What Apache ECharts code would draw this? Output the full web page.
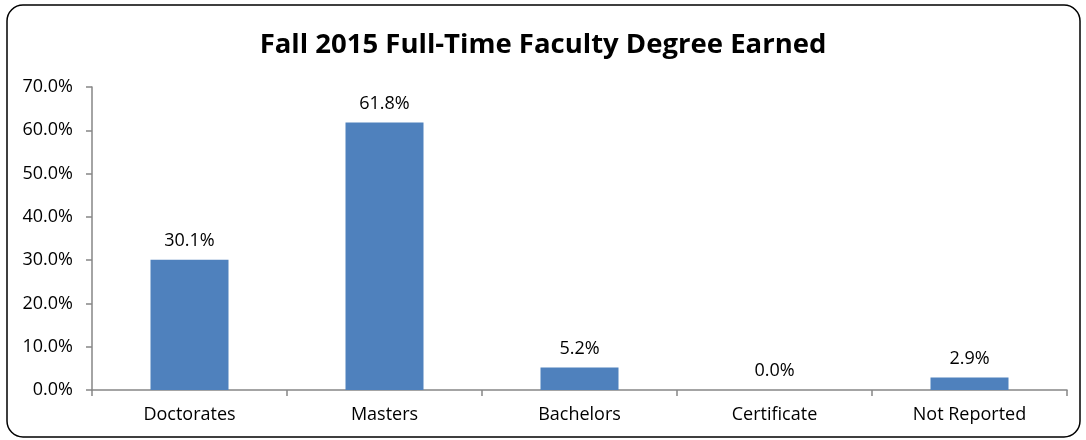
<!DOCTYPE html>
<html>
<head>
<meta charset="utf-8">
<script src="https://cdn.jsdelivr.net/npm/echarts@6/dist/echarts.min.js"></script>
<style>
html,body{margin:0;padding:0;background:#fff;}
#chart{width:1086px;height:440px;}
</style>
</head>
<body>
<div id="chart"></div>
<script>
const categories = ["Doctorates", "Masters", "Bachelors", "Certificate", "Not Reported"];
const values = [30.1, 61.8, 5.2, 0.0, 2.9];
const titleText = "Fall 2015 Full-Time Faculty Degree Earned";

const chart = echarts.init(document.getElementById('chart'));
const font = '"Open Sans", "Noto Sans", sans-serif';
chart.setOption({
  animation: false,
  backgroundColor: '#fff',
  title: {
    text: titleText,
    left: 'center',
    top: 26,
    textStyle: {fontFamily: font, fontWeight: 'bold', fontSize: 27.5, color: '#000'}
  },
  graphic: [{
    type: 'rect',
    shape: {x: 7, y: 5, width: 1073, height: 432, r: 16},
    style: {fill: 'none', stroke: '#000', lineWidth: 1.5},
    silent: true
  }],
  grid: {left: 92, right: 19, top: 87, bottom: 50, containLabel: false},
  xAxis: {
    type: 'category',
    data: categories,
    axisLine: {lineStyle: {color: '#868686', width: 1.5}},
    axisTick: {show: true, length: 6, lineStyle: {color: '#868686', width: 1.5}},
    axisLabel: {fontFamily: font, fontSize: 18, color: '#000', margin: 16}
  },
  yAxis: {
    type: 'value',
    min: 0, max: 70, interval: 10,
    splitLine: {show: false},
    axisLine: {show: true, lineStyle: {color: '#868686', width: 1.5}},
    axisTick: {show: true, length: 6, lineStyle: {color: '#868686', width: 1.5}},
    axisLabel: {fontFamily: font, fontSize: 18, color: '#000', margin: 19,
      formatter: v => v.toFixed(1) + '%'}
  },
  series: [{
    type: 'bar',
    data: values,
    barWidth: '40%',
    itemStyle: {color: '#4F81BD'},
    label: {show: true, position: 'top', distance: 10, fontFamily: font, fontSize: 18, color: '#000',
      formatter: p => p.value.toFixed(1) + '%'}
  }]
});
</script>
</body>
</html>
